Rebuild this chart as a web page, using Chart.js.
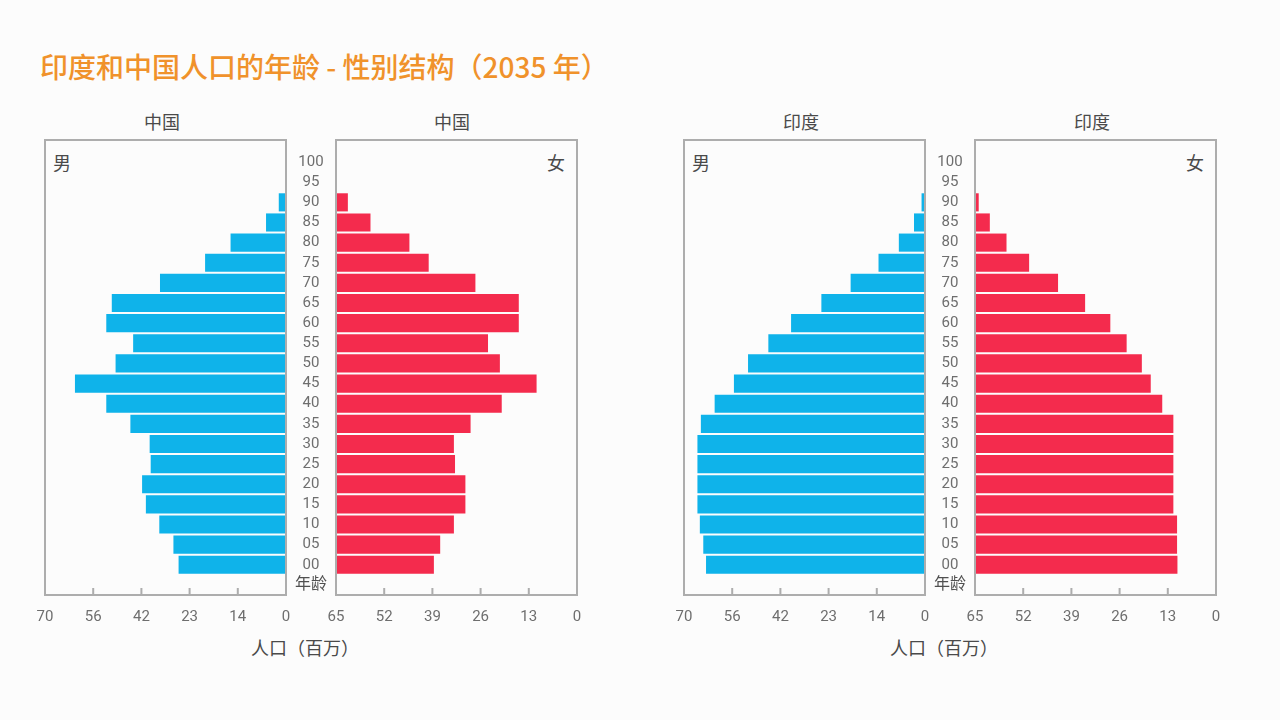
<!DOCTYPE html>
<html lang="zh">
<head>
<meta charset="utf-8">
<title>印度和中国人口的年龄 - 性别结构（2035 年）</title>
<script src="https://cdn.jsdelivr.net/npm/chart.js@4.4.1/dist/chart.umd.min.js"></script>
<style>
  html, body { margin: 0; padding: 0; }
  body {
    width: 1280px; height: 720px; position: relative; overflow: hidden;
    background: #fcfcfc;
    font-family: "Noto Sans CJK SC", "Noto Sans", sans-serif;
  }
  .title { position: absolute; left: 40px; top: 46px; font-size: 28px; font-weight: 500; color: #f0922b; white-space: nowrap; }
  .lbl { position: absolute; color: #4a4a4a; font-size: 18px; line-height: 1; white-space: nowrap; transform: translate(-50%, -50%); }
  canvas { position: absolute; }
</style>
</head>
<body>
<div class="title">印度和中国人口的年龄 - 性别结构（2035 年）</div>

<div class="lbl" style="left:162px; top:121px;">中国</div>
<div class="lbl" style="left:452px; top:121px;">中国</div>
<div class="lbl" style="left:62px; top:162px;">男</div>
<div class="lbl" style="left:556px; top:162px;">女</div>
<div class="lbl" style="left:305px; top:647px;">人口（百万）</div>

<div class="lbl" style="left:801px; top:121px;">印度</div>
<div class="lbl" style="left:1092px; top:121px;">印度</div>
<div class="lbl" style="left:701px; top:162px;">男</div>
<div class="lbl" style="left:1195px; top:162px;">女</div>
<div class="lbl" style="left:944px; top:647px;">人口（百万）</div>

<canvas id="chinaMale" width="265" height="510" style="left:33px; top:130px;"></canvas>
<canvas id="chinaFemale" width="303" height="510" style="left:286px; top:130px;"></canvas>
<canvas id="indiaMale" width="265" height="510" style="left:672px; top:130px;"></canvas>
<canvas id="indiaFemale" width="303" height="510" style="left:925px; top:130px;"></canvas>

<script>
// age groups, top to bottom (last slot is the axis caption)
const ageLabels = ["100", "95", "90", "85", "80", "75", "70", "65", "60", "55", "50",
                   "45", "40", "35", "30", "25", "20", "15", "10", "05", "00", "年龄"];

// population in millions, same order as ageLabels
const chinaMale   = [null, null, 2.1, 5.8, 16.1, 23.5, 36.6, 50.6, 52.2, 44.4, 49.5,
                     61.3, 52.2, 45.2, 39.6, 39.3, 41.8, 40.7, 36.8, 32.7, 31.2, null];
const chinaFemale = [null, null, 3.2, 9.3, 19.8, 25.0, 37.6, 49.3, 49.3, 41.0, 44.2,
                     54.1, 44.7, 36.3, 31.8, 32.1, 34.9, 34.9, 31.8, 28.1, 26.4, null];
const indiaMale   = [null, null, 1.0, 3.2, 7.6, 13.5, 21.6, 30.1, 38.9, 45.5, 51.4,
                     55.5, 61.1, 65.1, 66.1, 66.1, 66.1, 66.1, 65.4, 64.4, 63.6, null];
const indiaFemale = [null, null, 1.0, 4.0, 8.5, 14.6, 22.4, 29.7, 36.5, 40.9, 45.0,
                     47.4, 50.5, 53.5, 53.5, 53.5, 53.5, 53.5, 54.5, 54.5, 54.6, null];

// tick labels as printed, left to right
const maleTicks   = ["70", "56", "42", "23", "14", "0"];
const femaleTicks = ["65", "52", "39", "26", "13", "0"];

const MALE_COLOR = "#0fb3ea";
const FEMALE_COLOR = "#f42b4d";
const FRAME_COLOR = "#adadad";
const TICK_COLOR = "#6e6e6e";

Chart.defaults.font.family = "Roboto, 'Noto Sans CJK SC', sans-serif";

// grey frame round the plot area plus the small inward tick marks
const panelFrame = {
  id: "panelFrame",
  afterDatasetsDraw(chart) {
    const { ctx, chartArea: a } = chart;
    const x = chart.scales.x;
    ctx.save();
    ctx.strokeStyle = FRAME_COLOR;
    ctx.lineWidth = 2;
    ctx.strokeRect(a.left, a.top - 12, a.right - a.left, a.bottom - a.top + 12);
    ctx.beginPath();
    x.ticks.forEach((t, i) => {
      const px = x.getPixelForTick(i);
      if (px > a.left + 3 && px < a.right - 3) {
        ctx.moveTo(px, a.bottom);
        ctx.lineTo(px, a.bottom - 7);
      }
    });
    ctx.stroke();
    ctx.restore();
  }
};

function makePanel(id, values, isMale) {
  const max = isMale ? 70 : 65;
  const step = isMale ? 14 : 13;
  const tickText = isMale ? maleTicks : femaleTicks;
  const last = ageLabels.length - 1;

  const yAxis = isMale ? { display: false } : {
    grid: { display: false, drawTicks: false },
    border: { display: false },
    ticks: {
      autoSkip: false,
      crossAlign: "center",
      padding: 9,
      color: (c) => (c.index === last ? "#505050" : TICK_COLOR),
      font: (c) => ({ size: c.index === last ? 16 : 15 })
    },
    afterFit: (s) => { s.width = 50; }
  };

  new Chart(document.getElementById(id), {
    type: "bar",
    data: {
      labels: ageLabels,
      datasets: [{
        data: values,
        backgroundColor: isMale ? MALE_COLOR : FEMALE_COLOR,
        barPercentage: 0.9,
        categoryPercentage: 1
      }]
    },
    options: {
      indexAxis: "y",
      responsive: false,
      animation: false,
      layout: { padding: { left: isMale ? 12 : 0, right: 12, top: 22, bottom: 0 } },
      plugins: { legend: { display: false }, tooltip: { enabled: false } },
      scales: {
        x: {
          reverse: isMale,
          min: 0,
          max: max,
          // invisible tick marks push the labels down without widening the side padding
          grid: { display: true, drawOnChartArea: false, drawTicks: true, tickLength: 13, color: "rgba(0,0,0,0)" },
          border: { display: false },
          ticks: {
            stepSize: step,
            autoSkip: false,
            maxRotation: 0,
            padding: 0,
            color: TICK_COLOR,
            font: { size: 15 },
            callback: (v) => {
              const i = Math.round(isMale ? (max - v) / step : v / step);
              return tickText[i];
            }
          },
          afterFit: (s) => { s.height = 45; }
        },
        y: yAxis
      }
    },
    plugins: [panelFrame]
  });
}

makePanel("chinaMale", chinaMale, true);
makePanel("chinaFemale", chinaFemale, false);
makePanel("indiaMale", indiaMale, true);
makePanel("indiaFemale", indiaFemale, false);
</script>
</body>
</html>
